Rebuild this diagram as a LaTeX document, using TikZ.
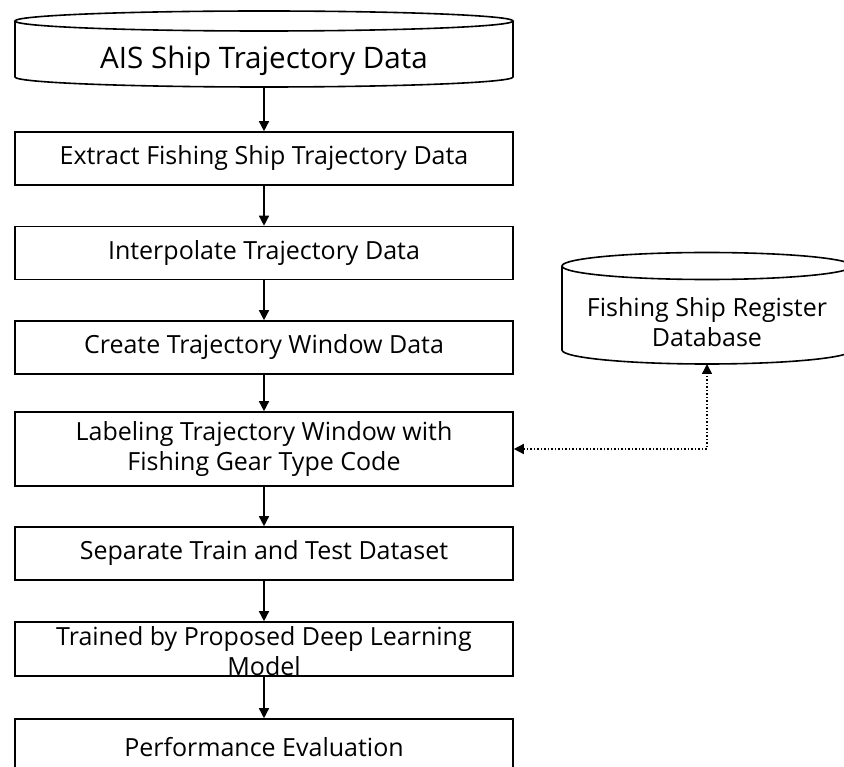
\documentclass[tikz,border=0pt]{standalone}
\usepackage{fontspec}
\setmainfont{Open Sans}
\usetikzlibrary{arrows.meta}
\begin{document}
\begin{tikzpicture}[x=1pt,y=-1pt,
  line width=1.6pt,
  boxfont/.style={font=\fontsize{25}{30}\selectfont},
  stepbox/.style={draw, minimum width=498pt, minimum height=53pt, inner sep=0pt,
    align=center, boxfont},
  flow/.style={-{Triangle[length=10pt,width=10pt]}, line width=1.5pt},
  dotflow/.style={{Triangle[length=10pt,width=10pt]}-{Triangle[length=10pt,width=10pt]}, dotted, line width=1.5pt},
  txt/.style={inner sep=0pt, align=center}]
\useasboundingbox (0,0) rectangle (844,767);
\clip (0,0) rectangle (844,767);
% AIS cylinder
\draw (15,21) -- (15,77) arc[start angle=180,end angle=360,x radius=249pt,y radius=10pt] -- (513,21);
\draw (264,21) ellipse [x radius=249pt, y radius=10pt];
\node[txt, font=\fontsize{29.6}{36}\selectfont] (ais) at (264,61) {AIS Ship Trajectory Data};
\coordinate (aisb) at (264,87);
% register cylinder
\draw (562,266) -- (562,350) arc[start angle=180,end angle=360,x radius=145pt,y radius=14pt] -- (852,266);
\draw (707,266) ellipse [x radius=145pt, y radius=13.5pt];
\node[txt, boxfont] (reg) at (707,322) {Fishing Ship Register\\Database};
\coordinate (regb) at (707,364);
% boxes
\node[stepbox] (b1) at (264,158.5) {Extract Fishing Ship Trajectory Data};
\node[stepbox] (b2) at (264,253) {Interpolate Trajectory Data};
\node[stepbox] (b3) at (264,347.5) {Create Trajectory Window Data};
\node[stepbox, minimum height=74pt] (b4) at (264,449) {Labeling Trajectory Window with\\Fishing Gear Type Code};
\node[stepbox] (b5) at (264,553.5) {Separate Train and Test Dataset};
\node[stepbox, minimum height=54pt] (b6) at (264,649) {};
\node[txt, boxfont] (b6t) at (264,651) {Trained by Proposed Deep Learning\\Model};
\node[stepbox, minimum height=60pt] (b7) at (264,749) {};
\node[txt, boxfont] (b7t) at (264,747) {Performance Evaluation};
% connectors
\draw[flow] (aisb) -- (b1.north);
\draw[flow] (b1) -- (b2);
\draw[flow] (b2) -- (b3);
\draw[flow] (b3) -- (b4);
\draw[flow] (b4) -- (b5);
\draw[flow] (b5) -- (b6);
\draw[flow] (b6) -- (b7);
\draw[dotflow] (b4.east) -| (regb);
\end{tikzpicture}
\end{document}
